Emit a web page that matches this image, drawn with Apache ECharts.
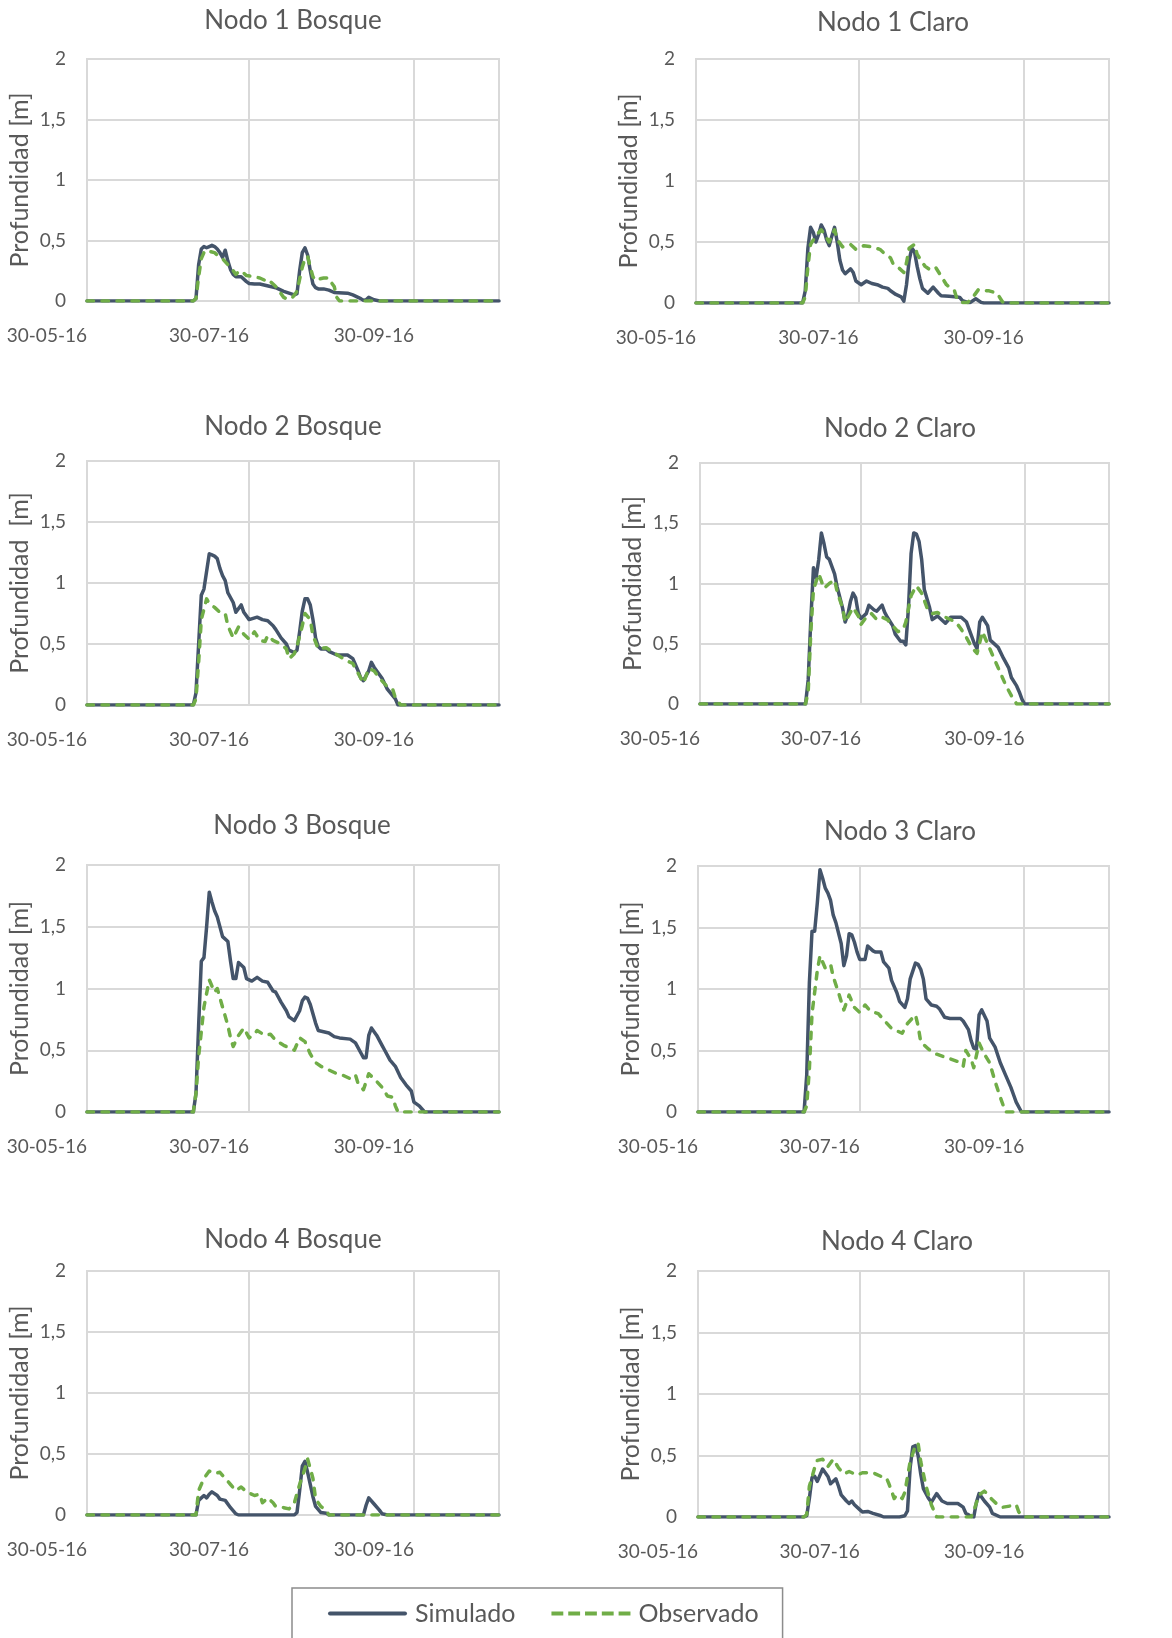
<!DOCTYPE html>
<html>
<head>
<meta charset="utf-8">
<script src="https://cdn.jsdelivr.net/npm/echarts@6/dist/echarts.min.js"></script>
<style>
  html, body { margin: 0; padding: 0; background: #ffffff; }
  #chart { width: 1172px; height: 1638px; }
</style>
</head>
<body>
<div id="chart"></div>
<script>
// Days are counted from 30-05-16; each series is a list of [day, depth in m].
const xTickDays = [0, 61, 123];
const xTickLabels = ['30-05-16', '30-07-16', '30-09-16'];
const xMaxDay = 155;
const seriesNames = ['Simulado', 'Observado'];
const panelTitles = ['Nodo 1 Bosque', 'Nodo 1 Claro', 'Nodo 2 Bosque', 'Nodo 2 Claro',
                     'Nodo 3 Bosque', 'Nodo 3 Claro', 'Nodo 4 Bosque', 'Nodo 4 Claro'];
const yAxisNames = ['Profundidad [m]', 'Profundidad [m]', 'Profundidad  [m]', 'Profundidad [m]',
                    'Profundidad [m]', 'Profundidad [m]', 'Profundidad [m]', 'Profundidad [m]'];

const nodo1BosqueSim = [[0,0],[40,0],[41,0.02],[42,0.3],[43,0.43],[44,0.45],[45,0.44],[46,0.45],[47,0.46],[48,0.45],[49,0.43],[50,0.40],[51,0.36],[52,0.42],[53,0.33],[54,0.26],[55,0.22],[56,0.2],[58,0.2],[60,0.16],[61,0.145],[63,0.14],[65,0.14],[67,0.13],[69,0.12],[71,0.11],[73,0.09],[74,0.08],[76,0.065],[78,0.05],[79,0.06],[80,0.25],[81,0.40],[82,0.44],[83,0.38],[84,0.25],[85,0.14],[86,0.11],[87,0.10],[89,0.10],[91,0.09],[93,0.07],[98,0.065],[100,0.05],[103,0.02],[104,0.005],[105,0.01],[106,0.03],[108,0.01],[110,0],[155,0]];
const nodo1BosqueObs = [[0,0],[40,0],[41,0.02],[42,0.2],[43,0.35],[44,0.40],[45,0.42],[46,0.41],[48,0.40],[49,0.38],[51,0.35],[53,0.30],[55,0.25],[56,0.22],[57,0.24],[58,0.25],[60,0.21],[63,0.20],[65,0.19],[67,0.17],[68,0.18],[70,0.14],[72,0.10],[73,0.06],[74,0.03],[75,0.02],[77,0.02],[78,0.05],[79,0.08],[80,0.18],[81,0.28],[82,0.35],[83,0.37],[84,0.28],[85,0.2],[86,0.17],[87,0.18],[89,0.19],[91,0.19],[92,0.15],[93,0.12],[94,0.03],[95,0],[155,0]];

const nodo1ClaroSim = [[0,0],[40,0],[41,0.1],[42,0.45],[43,0.62],[44,0.58],[45,0.50],[46,0.56],[47,0.64],[48,0.60],[49,0.52],[50,0.47],[51,0.55],[52,0.62],[53,0.5],[54,0.35],[55,0.27],[56,0.24],[58,0.28],[59,0.25],[60,0.18],[62,0.15],[64,0.18],[66,0.16],[68,0.15],[70,0.13],[72,0.12],[73,0.10],[75,0.07],[77,0.05],[78,0.015],[79,0.15],[80,0.35],[81,0.45],[82,0.42],[83,0.3],[84,0.20],[85,0.12],[87,0.08],[89,0.13],[91,0.08],[92,0.06],[95,0.055],[98,0.05],[99,0.045],[100,0.02],[102,0.005],[103,0.005],[105,0.035],[107,0.005],[108,0],[155,0]];
const nodo1ClaroObs = [[0,0],[40,0],[41,0.05],[42,0.3],[43,0.48],[45,0.55],[47,0.60],[48,0.57],[50,0.5],[52,0.60],[53,0.52],[55,0.46],[58,0.48],[60,0.44],[63,0.47],[66,0.46],[69,0.44],[71,0.40],[73,0.37],[74,0.32],[76,0.29],[78,0.25],[79,0.33],[80,0.45],[82,0.48],[83,0.40],[85,0.33],[86,0.30],[88,0.27],[90,0.29],[92,0.22],[94,0.15],[97,0.10],[98,0.03],[100,0.005],[102,0.005],[104,0.05],[106,0.11],[108,0.10],[110,0.10],[113,0.08],[115,0.01],[116,0],[155,0]];

const nodo2BosqueSim = [[0,0],[40,0],[41,0.1],[42,0.5],[43,0.9],[44,0.95],[46,1.24],[47,1.23],[48,1.22],[49,1.2],[50,1.12],[51,1.06],[52,1.02],[53,0.92],[55,0.84],[56,0.76],[58,0.82],[59,0.76],[61,0.70],[64,0.72],[66,0.70],[68,0.69],[70,0.65],[71,0.62],[73,0.55],[75,0.5],[76,0.45],[78,0.43],[79,0.45],[80,0.6],[81,0.77],[82,0.87],[83,0.87],[84,0.82],[85,0.70],[86,0.55],[87,0.48],[88,0.46],[90,0.46],[91,0.44],[94,0.41],[98,0.41],[100,0.38],[101,0.33],[102,0.28],[103,0.22],[104,0.2],[106,0.28],[107,0.35],[108,0.31],[111,0.22],[113,0.13],[116,0.05],[117,0],[155,0]];
const nodo2BosqueObs = [[0,0],[40,0],[41,0.05],[42,0.35],[43,0.7],[45,0.87],[46,0.83],[48,0.80],[50,0.76],[52,0.75],[53,0.65],[55,0.55],[57,0.64],[59,0.58],[61,0.54],[63,0.60],[65,0.53],[67,0.52],[68,0.57],[70,0.53],[73,0.50],[75,0.46],[76,0.38],[78,0.42],[79,0.48],[81,0.65],[82,0.75],[84,0.70],[85,0.57],[87,0.46],[90,0.47],[92,0.44],[95,0.40],[98,0.36],[100,0.34],[102,0.26],[104,0.18],[106,0.30],[108,0.28],[110,0.22],[113,0.15],[115,0.13],[116,0.06],[118,0],[155,0]];

const nodo2ClaroSim = [[0,0],[40,0],[41,0.2],[42,0.7],[43,1.13],[44,1.05],[45,1.2],[46,1.42],[47,1.33],[48,1.22],[49,1.2],[51,1.08],[52,0.97],[54,0.80],[55,0.68],[56,0.74],[57,0.85],[58,0.92],[59,0.88],[60,0.75],[61,0.71],[63,0.75],[64,0.82],[66,0.78],[67,0.77],[69,0.82],[70,0.76],[71,0.72],[73,0.65],[74,0.58],[76,0.52],[77,0.52],[78,0.49],[79,0.8],[80,1.25],[81,1.42],[82,1.41],[83,1.35],[84,1.2],[85,0.95],[87,0.80],[88,0.70],[90,0.73],[93,0.67],[95,0.72],[99,0.72],[101,0.68],[102,0.62],[104,0.50],[105,0.46],[106,0.68],[107,0.72],[109,0.65],[110,0.53],[113,0.47],[115,0.38],[117,0.30],[118,0.22],[120,0.15],[121,0.10],[122,0.04],[123,0],[155,0]];
const nodo2ClaroObs = [[0,0],[40,0],[41,0.1],[42,0.6],[43,0.95],[45,1.08],[47,0.96],[49,1.0],[51,1.03],[52,0.93],[54,0.80],[55,0.68],[58,0.80],[60,0.73],[61,0.66],[63,0.72],[65,0.75],[67,0.70],[69,0.72],[71,0.70],[73,0.65],[75,0.60],[77,0.62],[78,0.68],[80,0.90],[82,0.98],[84,0.92],[86,0.80],[88,0.75],[90,0.76],[92,0.73],[95,0.70],[97,0.68],[99,0.62],[101,0.55],[103,0.47],[105,0.42],[107,0.60],[108,0.55],[110,0.45],[112,0.35],[114,0.25],[116,0.15],[118,0.07],[120,0],[155,0]];

const nodo3BosqueSim = [[0,0],[40,0],[41,0.15],[42,0.7],[43,1.22],[44,1.25],[45,1.5],[46,1.78],[47,1.7],[48,1.63],[49,1.58],[51,1.42],[53,1.38],[54,1.22],[55,1.08],[56,1.08],[57,1.21],[59,1.17],[60,1.08],[62,1.06],[64,1.09],[66,1.06],[68,1.05],[70,0.98],[71,0.97],[73,0.89],[75,0.82],[76,0.77],[78,0.74],[80,0.82],[81,0.9],[82,0.93],[83,0.92],[84,0.87],[86,0.72],[87,0.66],[89,0.65],[91,0.64],[93,0.61],[95,0.60],[99,0.59],[101,0.56],[103,0.48],[104,0.44],[105,0.44],[106,0.62],[107,0.68],[109,0.62],[111,0.54],[112,0.5],[114,0.42],[116,0.37],[118,0.28],[120,0.22],[122,0.17],[123,0.08],[125,0.05],[127,0],[155,0]];
const nodo3BosqueObs = [[0,0],[40,0],[41,0.15],[42,0.45],[43,0.65],[44,0.85],[46,1.07],[48,0.97],[49,1.0],[51,0.85],[53,0.70],[54,0.6],[55,0.53],[57,0.62],[59,0.68],[61,0.6],[63,0.63],[64,0.66],[67,0.62],[69,0.63],[71,0.58],[74,0.54],[76,0.52],[78,0.50],[80,0.60],[82,0.57],[84,0.47],[86,0.40],[88,0.37],[91,0.34],[94,0.31],[96,0.30],[99,0.27],[101,0.30],[102,0.23],[104,0.18],[106,0.31],[108,0.27],[111,0.20],[113,0.13],[115,0.12],[116,0.05],[117,0],[155,0]];

const nodo3ClaroSim = [[0,0],[40,0],[41,0.3],[42,1.05],[43,1.47],[44,1.47],[45,1.7],[46,1.97],[47,1.9],[48,1.82],[49,1.78],[50,1.72],[51,1.6],[52,1.54],[54,1.37],[55,1.19],[56,1.27],[57,1.45],[58,1.44],[59,1.38],[60,1.30],[61,1.24],[63,1.24],[64,1.35],[66,1.31],[67,1.30],[69,1.30],[70,1.22],[72,1.17],[73,1.07],[75,0.97],[76,0.90],[78,0.85],[79,0.92],[80,1.08],[82,1.21],[83,1.2],[84,1.16],[85,1.08],[86,0.92],[88,0.87],[90,0.86],[91,0.84],[93,0.77],[95,0.76],[99,0.76],[100,0.74],[102,0.67],[103,0.58],[104,0.52],[105,0.51],[106,0.79],[107,0.83],[109,0.74],[110,0.6],[112,0.53],[114,0.40],[116,0.30],[118,0.20],[119,0.14],[120,0.08],[122,0],[155,0]];
const nodo3ClaroObs = [[0,0],[40,0],[41,0.05],[42,0.35],[43,0.8],[45,1.15],[46,1.27],[48,1.17],[50,1.20],[51,1.1],[53,0.97],[55,0.83],[57,0.95],[59,0.85],[61,0.81],[63,0.87],[65,0.82],[68,0.80],[70,0.75],[73,0.68],[77,0.64],[79,0.72],[82,0.79],[83,0.70],[84,0.57],[87,0.51],[90,0.47],[94,0.44],[98,0.41],[100,0.37],[101,0.50],[103,0.43],[104,0.36],[106,0.56],[108,0.47],[110,0.40],[112,0.25],[114,0.12],[116,0],[155,0]];

const nodo4BosqueSim = [[0,0],[41,0],[42,0.12],[44,0.16],[45,0.14],[46,0.17],[47,0.19],[49,0.16],[50,0.13],[52,0.12],[54,0.06],[56,0.01],[57,0],[78,0],[79,0.02],[80,0.2],[81,0.40],[82,0.44],[83,0.35],[85,0.15],[86,0.07],[88,0.02],[90,0.015],[91,0],[104,0],[105,0.08],[106,0.14],[108,0.09],[110,0.04],[111,0.01],[113,0],[155,0]];
const nodo4BosqueObs = [[0,0],[41,0],[42,0.2],[44,0.30],[46,0.36],[48,0.34],[50,0.35],[52,0.30],[54,0.25],[56,0.20],[58,0.23],[60,0.19],[63,0.16],[65,0.17],[66,0.10],[68,0.14],[70,0.10],[71,0.07],[74,0.06],[76,0.05],[78,0.10],[80,0.25],[82,0.38],[83,0.46],[85,0.30],[86,0.13],[88,0.07],[90,0.04],[91,0],[155,0]];

const nodo4ClaroSim = [[0,0],[40,0],[41,0.01],[42,0.15],[43,0.32],[44,0.33],[45,0.29],[47,0.39],[49,0.33],[50,0.27],[52,0.31],[53,0.25],[54,0.18],[56,0.13],[57,0.11],[58,0.13],[59,0.10],[61,0.06],[62,0.04],[64,0.045],[66,0.03],[69,0.01],[70,0],[76,0],[78,0.01],[79,0.05],[80,0.4],[81,0.57],[82,0.58],[83,0.5],[84,0.35],[85,0.23],[87,0.15],[88,0.12],[90,0.19],[92,0.13],[94,0.11],[98,0.11],[100,0.08],[101,0.03],[103,0.005],[104,0],[105,0.12],[106,0.19],[108,0.13],[110,0.08],[111,0.03],[114,0],[155,0]];
const nodo4ClaroObs = [[0,0],[40,0],[41,0.02],[42,0.25],[44,0.40],[45,0.46],[47,0.47],[49,0.41],[51,0.47],[53,0.40],[55,0.35],[57,0.37],[60,0.34],[62,0.36],[66,0.36],[69,0.33],[71,0.32],[72,0.27],[74,0.15],[75,0.18],[77,0.15],[78,0.20],[80,0.45],[82,0.58],[83,0.60],[84,0.45],[86,0.25],[88,0.10],[90,0],[103,0],[104,0.05],[106,0.18],[108,0.21],[109,0.19],[111,0.14],[113,0.10],[115,0.08],[118,0.09],[120,0.10],[121,0.04],[123,0],[155,0]];

const simulated = [nodo1BosqueSim, nodo1ClaroSim, nodo2BosqueSim, nodo2ClaroSim,
                   nodo3BosqueSim, nodo3ClaroSim, nodo4BosqueSim, nodo4ClaroSim];
const observed = [nodo1BosqueObs, nodo1ClaroObs, nodo2BosqueObs, nodo2ClaroObs,
                  nodo3BosqueObs, nodo3ClaroObs, nodo4BosqueObs, nodo4ClaroObs];

// Plot rectangles (left, top, width, height) and title centres for the 4x2 layout.
const plotRects = [
  [87, 59, 412, 242], [696, 59, 413, 244],
  [87, 461, 412, 244], [700, 463, 409, 241],
  [87, 865, 412, 247], [698, 866, 411, 246],
  [87, 1271, 412, 244], [698, 1271, 411, 246]
];
const titleCentres = [
  [293, 21], [893, 23], [293, 427], [900, 429],
  [302, 826], [900, 832], [293, 1240], [897, 1242]
];

const FONT = 'Lato';
const TEXT_GREY = '#595959';
const GRID_GREY = '#D9D9D9';
const SIM_COLOR = '#44546A';
const OBS_COLOR = '#70AD47';

// Legend keys: a solid rounded bar and a row of five dashes.
const SOLID_KEY = 'path://M2,0 H77 A2,2 0 0 1 77,4 H2 A2,2 0 0 1 2,0 Z';
const DASH_KEY = 'path://M0,0h12v4h-12z M17,0h12v4h-12z M34,0h12v4h-12z M51,0h12v4h-12z M68,0h12v4h-12z';

const grids = [], xAxes = [], yAxes = [], titles = [], series = [];

plotRects.forEach((r, i) => {
  grids.push({
    left: r[0], top: r[1], width: r[2], height: r[3],
    show: true, borderColor: GRID_GREY, borderWidth: 2, backgroundColor: 'transparent'
  });
  xAxes.push({
    gridIndex: i, type: 'value', min: 0, max: xMaxDay,
    axisLine: { show: false },
    axisTick: { show: false, customValues: xTickDays },
    axisLabel: {
      customValues: xTickDays,
      formatter: v => xTickLabels[xTickDays.indexOf(v)] || '',
      align: 'right', margin: 25,
      color: TEXT_GREY, fontSize: 19, fontFamily: FONT
    },
    splitLine: { show: true, lineStyle: { color: GRID_GREY, width: 2 } }
  });
  yAxes.push({
    gridIndex: i, type: 'value', min: 0, max: 2, interval: 0.5,
    name: yAxisNames[i], nameLocation: 'middle', nameGap: 55,
    nameTextStyle: { color: TEXT_GREY, fontSize: 25, fontFamily: FONT },
    axisLine: { show: false }, axisTick: { show: false },
    axisLabel: {
      formatter: v => String(v).replace('.', ','),
      margin: 21, color: TEXT_GREY, fontSize: 19, fontFamily: FONT
    },
    splitLine: { show: true, lineStyle: { color: GRID_GREY, width: 2 } }
  });
  titles.push({
    text: panelTitles[i],
    left: titleCentres[i][0], top: titleCentres[i][1],
    textAlign: 'center', textVerticalAlign: 'middle', padding: 0,
    textStyle: { color: TEXT_GREY, fontSize: 26, fontWeight: 'normal', fontFamily: FONT }
  });
  series.push({
    name: seriesNames[0], type: 'line', xAxisIndex: i, yAxisIndex: i,
    data: simulated[i], showSymbol: false, symbol: 'none',
    lineStyle: { color: SIM_COLOR, width: 3.5, cap: 'round', join: 'round' },
    itemStyle: { color: SIM_COLOR }
  });
  series.push({
    name: seriesNames[1], type: 'line', xAxisIndex: i, yAxisIndex: i,
    data: observed[i], showSymbol: false, symbol: 'none',
    lineStyle: { color: OBS_COLOR, width: 3.5, type: [6.5, 8.5], cap: 'round', join: 'round' },
    itemStyle: { color: OBS_COLOR }
  });
});

const chart = echarts.init(document.getElementById('chart'), null, { renderer: 'canvas' });
chart.setOption({
  animation: false,
  backgroundColor: '#ffffff',
  title: titles,
  grid: grids,
  xAxis: xAxes,
  yAxis: yAxes,
  legend: {
    data: [
      { name: seriesNames[0], icon: SOLID_KEY },
      { name: seriesNames[1], icon: DASH_KEY }
    ],
    left: 292, top: 1588,
    itemWidth: 79, itemHeight: 4, itemGap: 36,
    padding: [13, 24, 50, 36],
    borderColor: '#8C8C8C', borderWidth: 1.5,
    textStyle: { color: TEXT_GREY, fontSize: 25, fontFamily: FONT, padding: [0, 0, 0, 3] }
  },
  series: series
});
</script>
</body>
</html>
